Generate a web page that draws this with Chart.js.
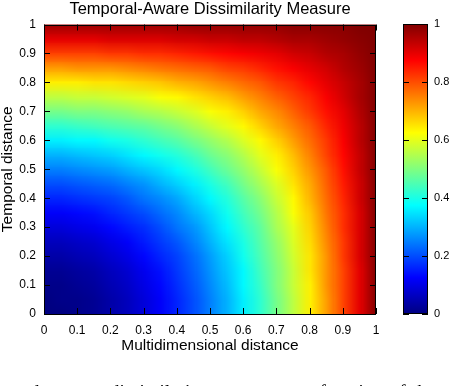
<!DOCTYPE html>
<html>
<head>
<meta charset="utf-8">
<script src="https://cdn.jsdelivr.net/npm/chart.js@4.4.1/dist/chart.umd.min.js"></script>
<style>
html, body { margin: 0; padding: 0; background: #fff; width: 450px; height: 386px; overflow: hidden; }
#wrap { position: relative; width: 450px; height: 386px; overflow: hidden; }
#main { position: absolute; left: 0; top: 0; }
#bar { position: absolute; left: 395px; top: 0; }
.cap { position: absolute; top: 383px; font: 19px 'Liberation Serif', serif; line-height: 18px; white-space: nowrap; color: #000; word-spacing: 2px; }
</style>
</head>
<body>
<div id="wrap">
  <canvas id="main" width="420" height="386"></canvas>
  <canvas id="bar" width="55" height="386"></canvas>
  <div class="cap" style="left:12px">and</div>
  <div class="cap" style="left:110px">dissimilarity measure as a function of the</div>
</div>
<script>
// tick labels
var xTicks = [0, 0.1, 0.2, 0.3, 0.4, 0.5, 0.6, 0.7, 0.8, 0.9, 1];
var yTicks = [0, 0.1, 0.2, 0.3, 0.4, 0.5, 0.6, 0.7, 0.8, 0.9, 1];
var barTicks = [0, 0.2, 0.4, 0.6, 0.8, 1];

// sample positions (multidimensional distance / temporal distance)
var xGrid = [0, 0.05, 0.1, 0.15, 0.2, 0.25, 0.3, 0.35, 0.4, 0.45, 0.5, 0.55, 0.6, 0.65, 0.7, 0.75, 0.8, 0.85, 0.9, 0.95, 1];
var yGrid = [0, 0.05, 0.1, 0.15, 0.2, 0.25, 0.3, 0.35, 0.4, 0.45, 0.5, 0.55, 0.6, 0.65, 0.7, 0.75, 0.8, 0.85, 0.9, 0.95, 1];

// dissimilarity, one row per temporal distance (bottom row first)
var dissimilarity = [
  [0, 0, 0.01, 0.02, 0.04, 0.06, 0.09, 0.12, 0.16, 0.2, 0.25, 0.3, 0.36, 0.42, 0.49, 0.56, 0.64, 0.72, 0.81, 0.9, 1],
  [0, 0.01, 0.01, 0.02, 0.04, 0.06, 0.09, 0.12, 0.16, 0.2, 0.25, 0.3, 0.36, 0.42, 0.49, 0.56, 0.64, 0.72, 0.81, 0.9, 1],
  [0.01, 0.01, 0.02, 0.03, 0.05, 0.07, 0.1, 0.13, 0.17, 0.21, 0.26, 0.31, 0.37, 0.43, 0.5, 0.57, 0.64, 0.73, 0.81, 0.9, 1],
  [0.02, 0.02, 0.03, 0.04, 0.06, 0.08, 0.11, 0.14, 0.18, 0.22, 0.27, 0.32, 0.37, 0.44, 0.5, 0.57, 0.65, 0.73, 0.81, 0.9, 1],
  [0.04, 0.04, 0.05, 0.06, 0.08, 0.1, 0.13, 0.16, 0.19, 0.23, 0.28, 0.33, 0.39, 0.45, 0.51, 0.58, 0.65, 0.73, 0.82, 0.91, 1],
  [0.06, 0.06, 0.07, 0.08, 0.1, 0.12, 0.15, 0.18, 0.21, 0.25, 0.3, 0.35, 0.4, 0.46, 0.52, 0.59, 0.66, 0.74, 0.82, 0.91, 1],
  [0.09, 0.09, 0.1, 0.11, 0.13, 0.15, 0.17, 0.2, 0.24, 0.27, 0.32, 0.37, 0.42, 0.47, 0.54, 0.6, 0.67, 0.75, 0.83, 0.91, 1],
  [0.12, 0.12, 0.13, 0.14, 0.16, 0.18, 0.2, 0.23, 0.26, 0.3, 0.34, 0.39, 0.44, 0.49, 0.55, 0.62, 0.68, 0.76, 0.83, 0.91, 1],
  [0.16, 0.16, 0.17, 0.18, 0.19, 0.21, 0.24, 0.26, 0.29, 0.33, 0.37, 0.41, 0.46, 0.51, 0.57, 0.63, 0.7, 0.77, 0.84, 0.92, 1],
  [0.2, 0.2, 0.21, 0.22, 0.23, 0.25, 0.27, 0.3, 0.33, 0.36, 0.4, 0.44, 0.49, 0.54, 0.59, 0.65, 0.71, 0.78, 0.85, 0.92, 1],
  [0.25, 0.25, 0.26, 0.27, 0.28, 0.3, 0.32, 0.34, 0.37, 0.4, 0.44, 0.48, 0.52, 0.57, 0.62, 0.67, 0.73, 0.79, 0.86, 0.93, 1],
  [0.3, 0.3, 0.31, 0.32, 0.33, 0.35, 0.37, 0.39, 0.41, 0.44, 0.48, 0.51, 0.55, 0.6, 0.64, 0.69, 0.75, 0.81, 0.87, 0.93, 1],
  [0.36, 0.36, 0.37, 0.37, 0.39, 0.4, 0.42, 0.44, 0.46, 0.49, 0.52, 0.55, 0.59, 0.63, 0.67, 0.72, 0.77, 0.82, 0.88, 0.94, 1],
  [0.42, 0.42, 0.43, 0.44, 0.45, 0.46, 0.47, 0.49, 0.51, 0.54, 0.57, 0.6, 0.63, 0.67, 0.71, 0.75, 0.79, 0.84, 0.89, 0.94, 1],
  [0.49, 0.49, 0.5, 0.5, 0.51, 0.52, 0.54, 0.55, 0.57, 0.59, 0.62, 0.64, 0.67, 0.71, 0.74, 0.78, 0.82, 0.86, 0.9, 0.95, 1],
  [0.56, 0.56, 0.57, 0.57, 0.58, 0.59, 0.6, 0.62, 0.63, 0.65, 0.67, 0.69, 0.72, 0.75, 0.78, 0.81, 0.84, 0.88, 0.92, 0.96, 1],
  [0.64, 0.64, 0.64, 0.65, 0.65, 0.66, 0.67, 0.68, 0.7, 0.71, 0.73, 0.75, 0.77, 0.79, 0.82, 0.84, 0.87, 0.9, 0.93, 0.96, 1],
  [0.72, 0.72, 0.73, 0.73, 0.73, 0.74, 0.75, 0.76, 0.77, 0.78, 0.79, 0.81, 0.82, 0.84, 0.86, 0.88, 0.9, 0.92, 0.95, 0.97, 1],
  [0.81, 0.81, 0.81, 0.81, 0.82, 0.82, 0.83, 0.83, 0.84, 0.85, 0.86, 0.87, 0.88, 0.89, 0.9, 0.92, 0.93, 0.95, 0.96, 0.98, 1],
  [0.9, 0.9, 0.9, 0.9, 0.91, 0.91, 0.91, 0.91, 0.92, 0.92, 0.93, 0.93, 0.94, 0.94, 0.95, 0.96, 0.96, 0.97, 0.98, 0.99, 1],
  [0.97, 0.97, 0.97, 0.97, 0.97, 0.97, 0.97, 0.97, 0.97, 0.98, 0.98, 0.98, 0.98, 0.98, 0.98, 0.99, 0.99, 0.99, 0.99, 1, 1]
];

var FONT = "'Liberation Sans', Arial, sans-serif";

function jetRGB(v) {
    function c(t) { return Math.round(255 * Math.max(0, Math.min(1, t))); }
    return [c(1.5 - Math.abs(4 * v - 3)), c(1.5 - Math.abs(4 * v - 2)), c(1.5 - Math.abs(4 * v - 1))];
}
function jet(v) { return 'rgb(' + jetRGB(v).join(',') + ')'; }

// heatmap: one pixel per sample, stretched over the scales with smooth shading
var heatmap = {
    id: 'heatmap',
    beforeDatasetsDraw: function (chart) {
        var xs = chart.scales.x, ys = chart.scales.y, ctx = chart.ctx, a = chart.chartArea;
        var nx = xGrid.length, ny = yGrid.length;
        var hx = (xGrid[1] - xGrid[0]) / 2, hy = (yGrid[1] - yGrid[0]) / 2;
        var off = document.createElement('canvas');
        off.width = nx; off.height = ny;
        var octx = off.getContext('2d');
        var img = octx.createImageData(nx, ny);
        for (var j = 0; j < ny; j++) {
            for (var i = 0; i < nx; i++) {
                var rgb = jetRGB(dissimilarity[j][i]);
                var k = ((ny - 1 - j) * nx + i) * 4;
                img.data[k] = rgb[0]; img.data[k + 1] = rgb[1]; img.data[k + 2] = rgb[2]; img.data[k + 3] = 255;
            }
        }
        octx.putImageData(img, 0, 0);
        var x0 = xs.getPixelForValue(xGrid[0] - hx), x1 = xs.getPixelForValue(xGrid[nx - 1] + hx);
        var y0 = ys.getPixelForValue(yGrid[ny - 1] + hy), y1 = ys.getPixelForValue(yGrid[0] - hy);
        ctx.save();
        ctx.beginPath();
        ctx.rect(a.left, a.top, a.right - a.left, a.bottom - a.top);
        ctx.clip();
        ctx.imageSmoothingEnabled = true;
        ctx.imageSmoothingQuality = 'low';
        ctx.drawImage(off, 0, 0, nx, ny, x0, y0, x1 - x0, y1 - y0);
        ctx.restore();
    }
};

// black box with inward ticks on every side
var frame = {
    id: 'frame',
    afterDraw: function (chart) {
        var a = chart.chartArea, ctx = chart.ctx, len = 6;
        ctx.save();
        ctx.strokeStyle = '#000';
        ctx.lineWidth = 1;
        ctx.beginPath();
        ['x', 'y'].forEach(function (id) {
            var s = chart.scales[id];
            if (!s || !s.options.display) return;
            s.ticks.forEach(function (t) {
                var p = Math.round(s.getPixelForValue(t.value)) + 0.5;
                if (id === 'x') {
                    ctx.moveTo(p, a.bottom); ctx.lineTo(p, a.bottom - len);
                    ctx.moveTo(p, a.top); ctx.lineTo(p, a.top + len);
                } else {
                    ctx.moveTo(a.left, p); ctx.lineTo(a.left + len, p);
                    ctx.moveTo(a.right, p); ctx.lineTo(a.right - len, p);
                }
            });
        });
        ctx.stroke();
        ctx.strokeRect(Math.round(a.left) + 0.5, Math.round(a.top) + 0.5, Math.round(a.right - a.left) - 1, Math.round(a.bottom - a.top) - 1);
        ctx.restore();
    }
};

// colour strip for the colour bar
var strip = {
    id: 'strip',
    beforeDatasetsDraw: function (chart) {
        var a = chart.chartArea, ys = chart.scales.y, ctx = chart.ctx;
        var stops = [0, 0.125, 0.375, 0.625, 0.875, 1];
        var g = ctx.createLinearGradient(0, ys.getPixelForValue(0), 0, ys.getPixelForValue(1));
        stops.forEach(function (s) { g.addColorStop(s, jet(s)); });
        ctx.save();
        ctx.fillStyle = g;
        ctx.fillRect(a.left, a.top, a.right - a.left, a.bottom - a.top);
        ctx.restore();
    }
};

function fixedTicks(list) {
    return function (scale) { scale.ticks = list.map(function (v) { return { value: v }; }); };
}

new Chart(document.getElementById('main'), {
    type: 'scatter',
    data: { datasets: [] },
    plugins: [heatmap, frame],
    options: {
        responsive: false,
        animation: false,
        events: [],
        layout: { padding: { left: 0, right: 0, top: 0, bottom: 27 } },
        plugins: {
            legend: { display: false },
            tooltip: { enabled: false },
            title: {
                display: true,
                text: 'Temporal-Aware Dissimilarity Measure',
                color: '#000',
                font: { family: FONT, size: 16.5, weight: 'normal', lineHeight: 1 },
                padding: { top: 1, bottom: 7 }
            }
        },
        scales: {
            x: {
                type: 'linear', position: 'bottom', min: 0, max: 1,
                afterBuildTicks: fixedTicks(xTicks),
                afterFit: function (s) { s.height = 45; },
                grid: { display: false, drawTicks: false },
                border: { display: false },
                ticks: { color: '#000', font: { family: FONT, size: 12 }, padding: 9, maxRotation: 0, autoSkip: false,
                         callback: function (v) { return String(v); } },
                title: { display: true, text: 'Multidimensional distance', color: '#000',
                         font: { family: FONT, size: 15.5, lineHeight: 1.2 }, padding: { top: 0, bottom: 4 } }
            },
            y: {
                type: 'linear', position: 'left', min: 0, max: 1,
                afterBuildTicks: fixedTicks(yTicks),
                afterFit: function (s) { s.width = 44; },
                grid: { display: false, drawTicks: false },
                border: { display: false },
                ticks: { color: '#000', font: { family: FONT, size: 12 }, padding: 8, autoSkip: false,
                         callback: function (v) { return String(v); } },
                title: { display: true, text: 'Temporal distance', color: '#000',
                         font: { family: FONT, size: 15.5, lineHeight: 1 }, padding: { top: 0, bottom: 0 } }
            },
            yRight: {
                type: 'linear', position: 'right', min: 0, max: 1,
                afterFit: function (s) { s.width = 44; },
                grid: { display: false, drawTicks: false },
                border: { display: false },
                ticks: { display: false }
            }
        }
    }
});

new Chart(document.getElementById('bar'), {
    type: 'scatter',
    data: { datasets: [] },
    plugins: [strip, frame],
    options: {
        responsive: false,
        animation: false,
        events: [],
        layout: { padding: { left: 8, right: 0, top: 24, bottom: 72 } },
        plugins: { legend: { display: false }, tooltip: { enabled: false } },
        scales: {
            x: { type: 'linear', display: false, min: 0, max: 1 },
            y: {
                type: 'linear', position: 'right', min: 0, max: 1,
                afterBuildTicks: fixedTicks(barTicks),
                afterFit: function (s) { s.width = 22; },
                grid: { display: false, drawTicks: false },
                border: { display: false },
                ticks: { color: '#000', font: { family: FONT, size: 11 }, padding: 6, autoSkip: false,
                         callback: function (v) { return String(v); } }
            }
        }
    }
});
</script>
</body>
</html>
